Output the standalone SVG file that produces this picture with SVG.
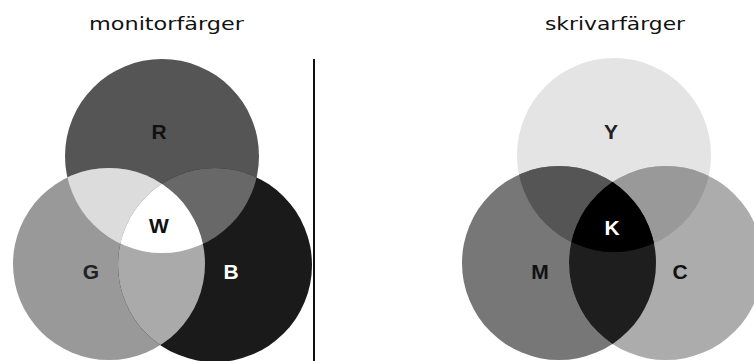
<svg xmlns="http://www.w3.org/2000/svg" width="754" height="361" viewBox="0 0 754 361">
<style>
.title{font-family:"DejaVu Sans","Noto Sans",sans-serif;font-size:17px;fill:#111}
.lbl{font-family:"Liberation Sans",Arial,sans-serif;font-size:21px;font-weight:bold;text-anchor:middle}
</style>
<defs>
<clipPath id="cR"><circle cx="162" cy="156" r="97"/></clipPath>
<clipPath id="cG"><circle cx="109" cy="264" r="96"/></clipPath>
<clipPath id="cB"><circle cx="215" cy="265" r="97"/></clipPath>
<clipPath id="cY"><circle cx="614" cy="155" r="97"/></clipPath>
<clipPath id="cM"><circle cx="559" cy="263" r="97"/></clipPath>
<clipPath id="cC"><circle cx="666" cy="263" r="97"/></clipPath>
</defs>
<rect width="754" height="361" fill="#fff"/>
<text class="title" x="89" y="30" textLength="155" lengthAdjust="spacingAndGlyphs">monitorfärger</text>
<text class="title" x="545" y="30" textLength="140" lengthAdjust="spacingAndGlyphs">skrivarfärger</text>
<g id="monitor">
<g id="R"><circle cx="162" cy="156" r="97" fill="#555"/></g>
<g id="G"><circle cx="109" cy="264" r="96" fill="#999"/></g>
<g id="B"><circle cx="215" cy="265" r="97" fill="#1a1a1a"/></g>
<g id="RG" clip-path="url(#cR)"><circle cx="109" cy="264" r="96" fill="#dcdcdc"/></g>
<g id="RB" clip-path="url(#cR)"><circle cx="215" cy="265" r="97" fill="#686868"/></g>
<g id="GB" clip-path="url(#cG)"><circle cx="215" cy="265" r="97" fill="#aaa"/></g>
<g id="W" clip-path="url(#cR)"><g clip-path="url(#cG)"><circle cx="215" cy="265" r="97" fill="#fff"/></g></g>
<text class="lbl" x="159" y="139" fill="#111">R</text>
<text class="lbl" x="159" y="233" fill="#111">W</text>
<text class="lbl" x="91" y="279" fill="#222">G</text>
<text class="lbl" x="231" y="279" fill="#fff">B</text>
</g>
<g id="connectors"><line x1="314" y1="59" x2="314" y2="361" stroke="#111" stroke-width="2"/></g>
<g id="printer">
<g id="Y"><circle cx="614" cy="155" r="97" fill="#e4e4e4"/></g>
<g id="M"><circle cx="559" cy="263" r="97" fill="#777"/></g>
<g id="C"><circle cx="666" cy="263" r="97" fill="#acacac"/></g>
<g id="YM" clip-path="url(#cY)"><circle cx="559" cy="263" r="97" fill="#555"/></g>
<g id="YC" clip-path="url(#cY)"><circle cx="666" cy="263" r="97" fill="#999"/></g>
<g id="MC" clip-path="url(#cM)"><circle cx="666" cy="263" r="97" fill="#1e1e1e"/></g>
<g id="K" clip-path="url(#cY)"><g clip-path="url(#cM)"><circle cx="666" cy="263" r="97" fill="#000"/></g></g>
<text class="lbl" x="611" y="139" fill="#222">Y</text>
<text class="lbl" x="612" y="235" fill="#fff">K</text>
<text class="lbl" x="540" y="279" fill="#111">M</text>
<text class="lbl" x="680" y="279" fill="#111">C</text>
</g>
</svg>
